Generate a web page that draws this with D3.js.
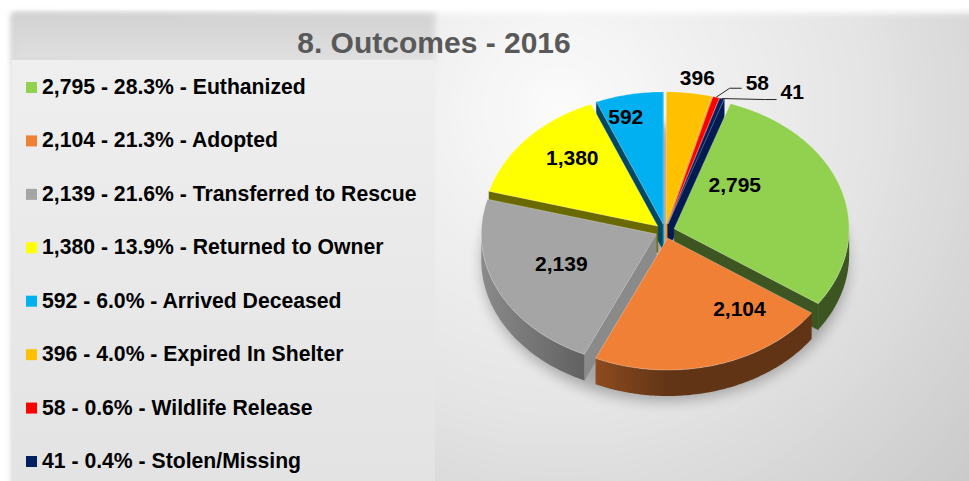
<!DOCTYPE html>
<html>
<head>
<meta charset="utf-8">
<script src="https://cdn.jsdelivr.net/npm/d3@7"></script>
<style>
  html, body { margin: 0; padding: 0; background: #fff; }
  svg { display: block; font-family: "Liberation Sans", Arial, sans-serif; }
</style>
</head>
<body>
<div id="chart"></div>
<script>
// data
const title = '8. Outcomes - 2016';
const categories = ['Euthanized', 'Adopted', 'Transferred to Rescue', 'Returned to Owner',
  'Arrived Deceased', 'Expired In Shelter', 'Wildlife Release', 'Stolen/Missing'];
const counts = [2795, 2104, 2139, 1380, 592, 396, 58, 41];
const percents = ['28.3', '21.3', '21.6', '13.9', '6.0', '4.0', '0.6', '0.4'];
const colors = ['#92d050', '#f08035', '#a5a5a5', '#ffff00', '#00b0f0', '#ffc000', '#ff0000', '#002060'];

const W = 969, H = 481;
const fmt = d3.format(',');

const svg = d3.select('#chart').append('svg')
    .attr('width', W)
    .attr('height', H);

const defs = svg.append('defs');

// background panel
const bg = defs.append('radialGradient')
    .attr('id', 'bg')
    .attr('gradientUnits', 'userSpaceOnUse')
    .attr('cx', 560).attr('cy', 110).attr('r', 560);
bg.append('stop').attr('offset', 0).attr('stop-color', '#fbfbfb');
bg.append('stop').attr('offset', 0.55).attr('stop-color', '#e4e4e4');
bg.append('stop').attr('offset', 1).attr('stop-color', '#c9c9c9');

defs.append('filter').attr('id', 'soft')
    .attr('x', '-5%').attr('y', '-5%').attr('width', '110%').attr('height', '110%')
    .append('feGaussianBlur').attr('stdDeviation', 3);

defs.append('filter').attr('id', 'shadow')
    .attr('x', '-30%').attr('y', '-30%').attr('width', '160%').attr('height', '160%')
    .append('feGaussianBlur').attr('stdDeviation', 7);

const band = defs.append('linearGradient')
    .attr('id', 'band').attr('x1', 0).attr('y1', 0).attr('x2', 0).attr('y2', 1);
band.append('stop').attr('offset', 0).attr('stop-color', '#d2d2d2');
band.append('stop').attr('offset', 1).attr('stop-color', '#e0e0e0');

const legBg = defs.append('linearGradient')
    .attr('id', 'legbg').attr('x1', 0).attr('y1', 0).attr('x2', 0).attr('y2', 1);
legBg.append('stop').attr('offset', 0).attr('stop-color', '#efefef');
legBg.append('stop').attr('offset', 1).attr('stop-color', '#e3e3e3');

svg.append('rect')
    .attr('x', 12).attr('y', 13)
    .attr('width', W + 20).attr('height', H + 20)
    .attr('fill', 'url(#bg)')
    .attr('filter', 'url(#soft)');

svg.append('rect')
    .attr('x', 12).attr('y', 13)
    .attr('width', 423).attr('height', 50)
    .attr('fill', 'url(#band)')
    .attr('filter', 'url(#soft)');

svg.append('rect')
    .attr('x', 12).attr('y', 60)
    .attr('width', 423).attr('height', H - 60)
    .attr('fill', 'url(#legbg)');

// title
svg.append('text')
    .attr('x', 434).attr('y', 53)
    .attr('text-anchor', 'middle')
    .attr('font-size', 30)
    .attr('font-weight', 'bold')
    .attr('fill', '#595959')
    .text(title);

// legend
const legend = svg.append('g');
const legendY = d3.scalePoint().domain(d3.range(categories.length)).range([94, 468]);

const item = legend.selectAll('g')
    .data(categories)
    .enter()
    .append('g')
    .attr('transform', (d, i) => `translate(0,${legendY(i)})`);

item.append('rect')
    .attr('x', 26).attr('y', -12)
    .attr('width', 11).attr('height', 11)
    .attr('fill', (d, i) => colors[i]);

item.append('text')
    .attr('x', 42)
    .attr('font-size', 21.2)
    .attr('font-weight', 'bold')
    .attr('fill', '#000')
    .text((d, i) => `${fmt(counts[i])} - ${percents[i]}% - ${d}`);

// 3d pie
const cx = 665, cy = 231, rx = 175, ry = 132, depth = 26, explode = 0.055;
const total = d3.sum(counts);
// first slice placed so that "Expired In Shelter" starts at 12 o'clock
const rot = d3.sum(counts.slice(5)) / total * 2 * Math.PI;

const arcs = d3.pie().sort(null)
    .startAngle(rot).endAngle(rot + 2 * Math.PI)(counts);

// label nudges (angle shift in degrees, radius fraction)
const labelTweak = [[-25.5, 0.48], [-22, 0.674], [3, 0.586], [5.3, 0.713],
  [-3.5, 0.84], [1.6, 1.124], [9.4, 1.19], [17.3, 1.23]];
const withLeader = [false, false, false, false, false, false, true, true];

function pt(s, a, t, z) {
  return [cx + s.dx + rx * t * Math.sin(a), cy + s.dy - ry * t * Math.cos(a) + (z || 0)];
}
function arcPts(s, a0, a1, z) {
  const n = Math.max(2, Math.ceil(Math.abs(a1 - a0) / 0.015));
  return d3.range(n + 1).map(k => pt(s, a0 + (a1 - a0) * k / n, 1, z));
}
function shade(c, f) {
  const col = d3.rgb(c);
  return d3.rgb(col.r * f, col.g * f, col.b * f).formatHex();
}
const line = d3.line();

const slices = arcs.map((a, i) => {
  const mid = (a.startAngle + a.endAngle) / 2;
  return {
    i, a0: a.startAngle, a1: a.endAngle, mid,
    dx: explode * rx * Math.sin(mid),
    dy: -explode * ry * Math.cos(mid)
  };
});

// shadow under the pie
svg.append('ellipse')
    .attr('cx', cx).attr('cy', cy + depth + 6)
    .attr('rx', rx + 8).attr('ry', ry + 6)
    .attr('fill', '#000')
    .attr('opacity', 0.28)
    .attr('filter', 'url(#shadow)');

const pieG = svg.append('g');
const order = slices.slice().sort((p, q) => -Math.cos(p.mid) + Math.cos(q.mid));

order.forEach(s => {
  const col = colors[s.i];
  const g = pieG.append('g');
  const c0 = pt(s, 0, 0);

  // radial walls
  const walls = [];
  if (Math.sin(s.a0) < 0) walls.push([s.a0, 0.41 + 0.47 * Math.max(0, -Math.cos(s.a0))]);
  if (Math.sin(s.a1) > 0) walls.push([s.a1, 0.41 + 0.47 * Math.max(0, Math.cos(s.a1))]);
  walls.forEach(([a, f]) => {
    const e = pt(s, a, 1);
    g.append('path')
        .attr('d', line([c0, e, [e[0], e[1] + depth], [c0[0], c0[1] + depth]]) + 'Z')
        .attr('fill', shade(col, f))
        .attr('stroke', shade(col, f))
        .attr('stroke-width', 0.5);
  });

  // outer wall (front half only)
  const va0 = Math.max(s.a0, Math.PI / 2), va1 = Math.min(s.a1, 1.5 * Math.PI);
  if (va1 > va0) {
    const id = 'wall' + s.i;
    const xL = pt(s, va1, 1)[0], xR = pt(s, va0, 1)[0];
    const grad = defs.append('linearGradient')
        .attr('id', id)
        .attr('gradientUnits', 'userSpaceOnUse')
        .attr('x1', xL).attr('x2', xR).attr('y1', 0).attr('y2', 0);
    d3.range(11).forEach(k => {
      const a = va1 - (va1 - va0) * k / 10;
      const x = pt(s, a, 1)[0];
      const f = 0.41 + 0.43 * Math.max(0, -Math.sin(a));
      grad.append('stop')
          .attr('offset', xR > xL ? (x - xL) / (xR - xL) : 0)
          .attr('stop-color', shade(col, f));
    });
    const top = arcPts(s, va0, va1, 0);
    const bot = arcPts(s, va0, va1, depth).reverse();
    g.append('path')
        .attr('d', line(top.concat(bot)) + 'Z')
        .attr('fill', `url(#${id})`);
  }

  // top face
  g.append('path')
      .attr('d', line([c0].concat(arcPts(s, s.a0, s.a1, 0))) + 'Z')
      .attr('fill', col)
      .attr('stroke', 'rgba(255,255,255,0.35)')
      .attr('stroke-width', 0.8)
      .attr('stroke-linejoin', 'round');
});

// data labels
const labelG = svg.append('g')
    .attr('font-size', 21)
    .attr('font-weight', 'bold')
    .attr('fill', '#000');

slices.forEach(s => {
  const [dA, t] = labelTweak[s.i];
  const p = pt(s, s.mid + dA * Math.PI / 180, t);
  const txt = labelG.append('text')
      .attr('x', p[0]).attr('y', p[1] + 7.5)
      .attr('text-anchor', 'middle')
      .text(fmt(counts[s.i]));
  if (withLeader[s.i]) {
    const w = txt.node().getComputedTextLength();
    const left = p[0] - w / 2;
    const ly = p[1] + (s.i === 6 ? 6 : 8);
    const e = pt(s, s.mid, 1);
    svg.append('path')
        .attr('d', line([e, [left - 16, ly], [left - 4, ly]]))
        .attr('fill', 'none')
        .attr('stroke', '#262626')
        .attr('stroke-width', 1);
  }
});
</script>
</body>
</html>
